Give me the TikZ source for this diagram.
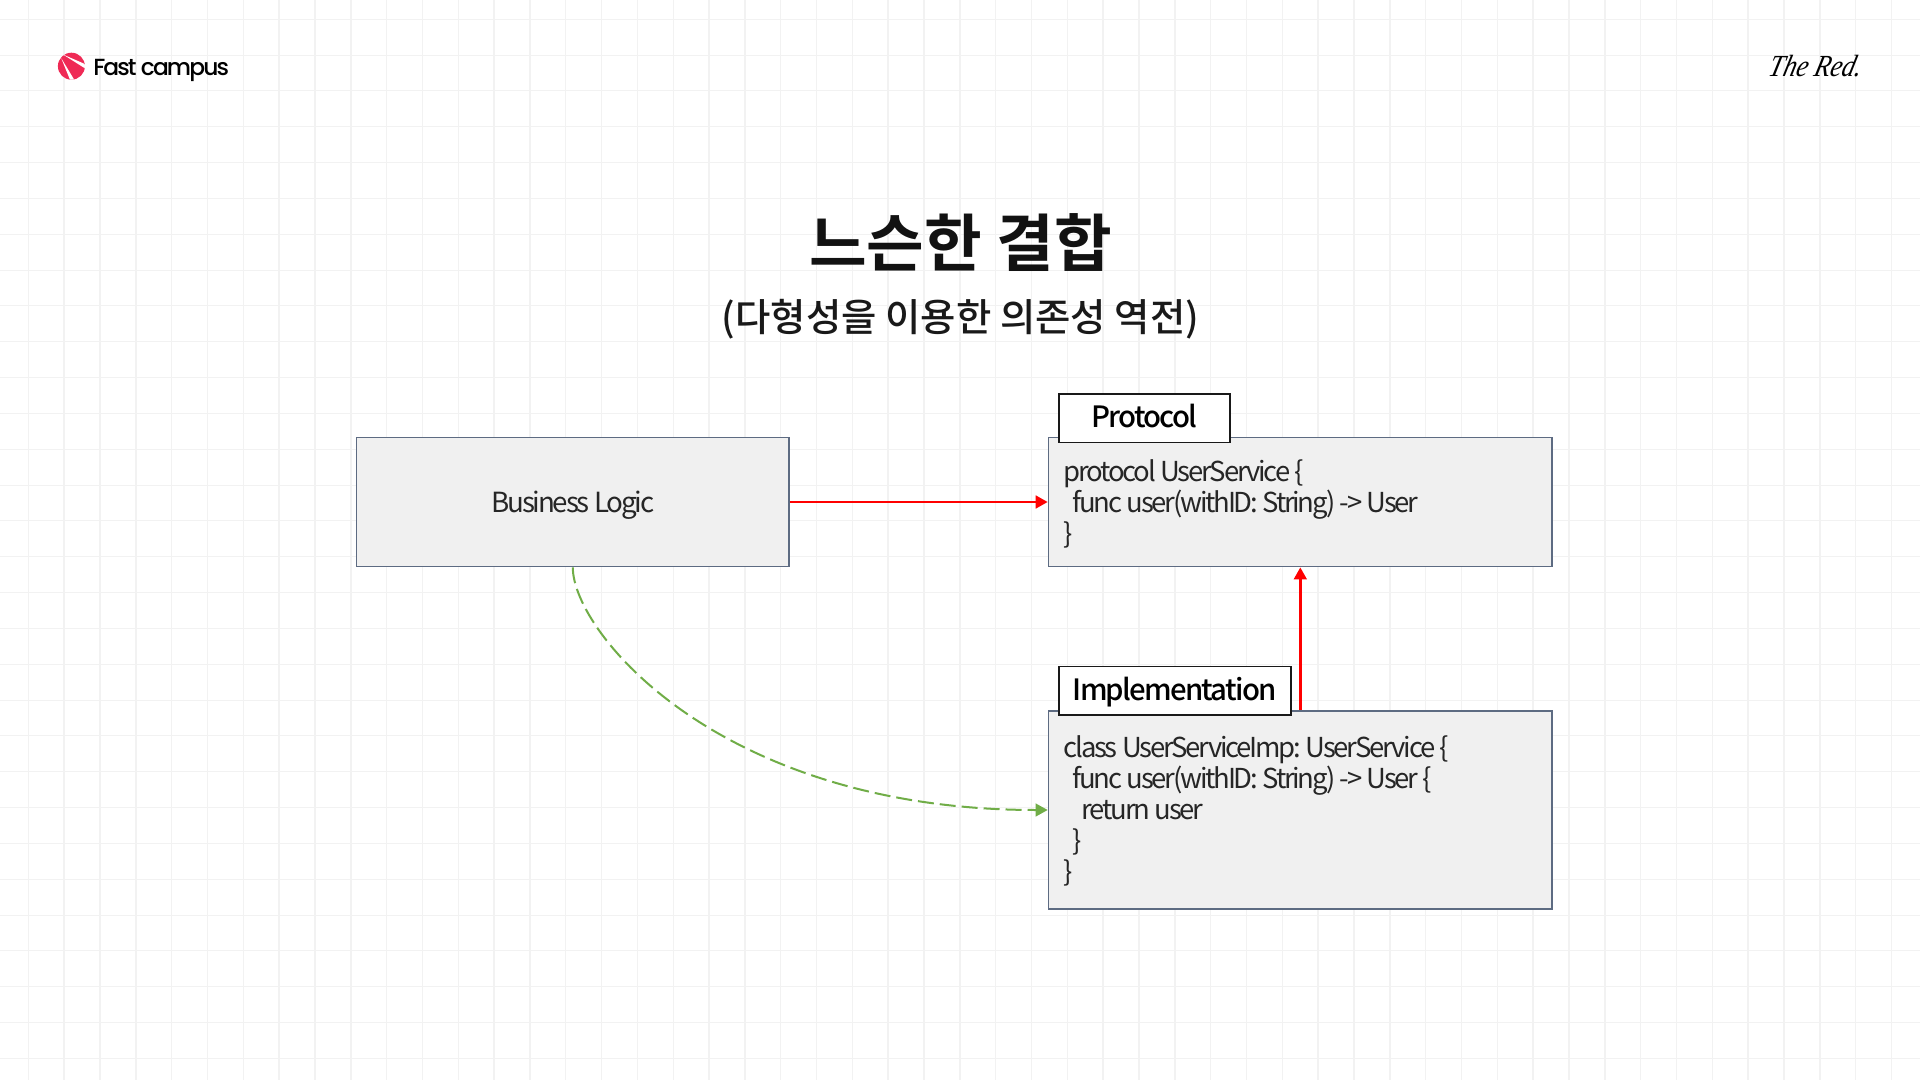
\documentclass[tikz,border=0pt]{standalone}
\usepackage{fontspec}
\usetikzlibrary{arrows.meta}
\setmainfont{Noto Sans CJK KR}[LetterSpace=-8]
\newfontfamily\medfont{Noto Sans CJK KR Medium}[LetterSpace=-6]
\newfontfamily\titlefont{Noto Sans CJK KR Bold}
\newfontfamily\subfont{Noto Sans CJK KR Medium}
\newfontfamily\logofont{Poppins Medium}[LetterSpace=-8]
\newfontfamily\signfont{Liberation Serif Italic}[FakeSlant=0.25,FakeStretch=0.85]
\definecolor{gridc}{HTML}{F2F2F2}
\definecolor{boxfill}{HTML}{F0F0F0}
\definecolor{boxline}{HTML}{5D6B82}
\definecolor{bodytext}{HTML}{262626}
\definecolor{logored}{HTML}{EF2A55}
\definecolor{greenc}{HTML}{70AD47}
\newcommand{\firstline}[1]{\rule{0pt}{#1pt}}
\newcommand{\lastline}[1]{\rule[-#1pt]{0pt}{#1pt}}
\newcommand{\tightspace}{\frenchspacing\spaceskip 3.2pt\relax}
\tikzset{
  px/.style={x=0.75pt,y=-0.75pt},
  gridv/.style={draw=gridc,line width=1.1pt},
  gridh/.style={draw=gridc,line width=0.8pt},
  codebox/.style={draw=boxline,fill=boxfill,line width=1.3pt,text=bodytext,font=\fontsize{20.6}{23.2}\selectfont,inner sep=0pt,align=left},
  tagbox/.style={draw=black!90,fill=white,line width=1.2pt,text=black,font=\medfont\fontsize{22}{26}\selectfont,inner sep=0pt,align=center,text height=17.8pt,text depth=3.4pt},
  redarrow/.style={draw=red,line width=1.9pt,-{Triangle[length=9pt,width=9.5pt]}},
  greenarrow/.style={draw=greenc,line width=1.5pt,dash pattern=on 12pt off 4.5pt,-{Triangle[length=9pt,width=9.5pt]}},
}
\begin{document}
\begin{tikzpicture}[px]
\useasboundingbox (0,0) rectangle (1920,1080);
\fill[white] (0,0) rectangle (1920,1080);
\foreach \i in {0,...,53}{\draw[gridv] ({28.3+35.83*\i},0) -- ({28.3+35.83*\i},1080);}
\foreach \j in {0,...,29}{\draw[gridh] (0,{19.3+35.83*\j}) -- (1920,{19.3+35.83*\j});}
% logo
\begin{scope}
\clip (71.4,66.2) circle[radius=13.5];
\fill[logored] (57,52) rectangle (86,81);
\fill[white] (63,54.5) -- (86,64.5) -- (86,69) -- cycle;
\fill[white] (61.3,58.3) -- (70.5,81) -- (75,81) -- cycle;
\end{scope}
\node[anchor=base west,inner sep=0pt,font=\logofont\fontsize{17.5}{20}\selectfont,text=black] (logo) at (93,75.5) {Fast campus};
\node[anchor=base west,inner sep=0pt,font=\signfont\fontsize{23}{26}\selectfont,text=black] (sign) at (1767,77) {The Red.};
% titles
\node[inner sep=0pt,font=\titlefont\fontsize{47}{50}\selectfont,text=black!93] (title) at (960.5,243) {느슨한 결합};
\node[inner sep=0pt,font=\subfont\fontsize{28.8}{32}\selectfont,text=black!90] (sub) at (960.5,319) {(다형성을 이용한 의존성 역전)};
% boxes
\node[codebox,font=\fontsize{20.8}{23.2}\selectfont,minimum width=432.5*0.75pt,minimum height=129*0.75pt,text height=18.5pt,text depth=3pt] (bl) at (572.8,502) {\tightspace Business Logic};
\node[codebox,minimum width=503.5*0.75pt,minimum height=129*0.75pt,text width=(503.5-30)*0.75pt] (proto) at (1300.3,502) {\tightspace\firstline{24}protocol UserService \{\\\hspace*{6.75pt}func user(withID: String) -> User\\\}\lastline{8.2}};
\node[codebox,minimum width=503.5*0.75pt,minimum height=198.6*0.75pt,text width=(503.5-30)*0.75pt] (impl) at (1300.3,810) {\tightspace\firstline{24}class UserServiceImp: UserService \{\\\hspace*{6.75pt}func user(withID: String) -> User \{\\\hspace*{13.5pt}return user\\\hspace*{6.75pt}\}\\\}\lastline{9.3}};
\node[tagbox,minimum width=171.4*0.75pt,minimum height=48.3*0.75pt] (ptag) at (1144.4,418.2) {Protocol};
\node[tagbox,minimum width=232*0.75pt,minimum height=48.3*0.75pt] (itag) at (1174.7,690.8) {Implementation};
% connectors
\draw[redarrow] (bl.east) -- (proto.west);
\draw[redarrow] (impl.north) -- (proto.south);
\draw[greenarrow] (bl.south) .. controls +(0,65) and +(-328,0) .. (impl.west);
\end{tikzpicture}
\end{document}
